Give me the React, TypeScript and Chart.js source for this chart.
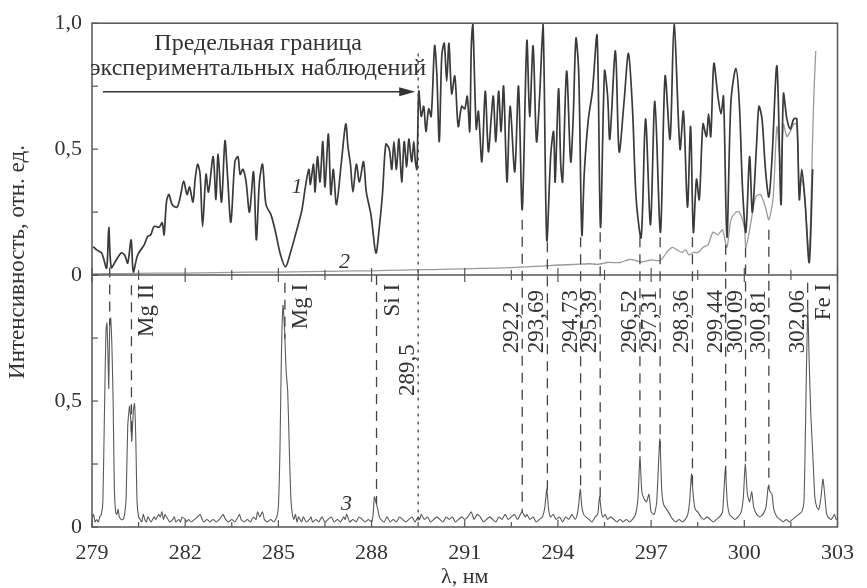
import React, { useEffect, useRef } from 'react';
import { Chart, registerables } from 'chart.js';
Chart.register(...registerables);

const SERIF = '"Liberation Serif", "DejaVu Serif", serif';
const INK = '#333333';
const FRAME = '#555555';

// Curve 1 (top panel): wavelength, nm and relative intensity
const wl1 = [279.04,279.15,279.31,279.47,279.54,279.62,279.78,279.94,280.05,280.15,280.26,280.33,280.47,280.68,280.79,280.89,281.0,281.16,281.26,281.32,281.4,281.48,281.58,281.74,281.85,281.95,282.06,282.14,282.25,282.32,282.4,282.48,282.56,282.67,282.75,282.9,282.99,283.06,283.17,283.28,283.36,283.47,283.6,283.7,283.77,283.86,283.96,284.07,284.2,284.29,284.39,284.49,284.6,284.76,284.91,285.07,285.23,285.39,285.55,285.66,285.76,285.87,285.98,286.03,286.13,286.18,286.26,286.34,286.43,286.5,286.61,286.69,286.77,286.87,287.03,287.17,287.24,287.32,287.4,287.51,287.61,287.74,287.83,287.98,288.14,288.25,288.35,288.46,288.57,288.65,288.72,288.8,288.88,288.97,289.05,289.13,289.2,289.29,289.36,289.41,289.46,289.52,289.6,289.68,289.75,289.84,289.92,290.03,290.1,290.18,290.26,290.34,290.42,290.49,290.58,290.68,290.79,290.9,291.0,291.08,291.16,291.21,291.26,291.37,291.44,291.55,291.66,291.76,291.85,291.92,292.0,292.09,292.17,292.25,292.36,292.46,292.61,292.73,292.85,293.0,293.09,293.2,293.31,293.41,293.52,293.64,293.77,293.86,293.91,294.02,294.09,294.15,294.28,294.41,294.49,294.58,294.67,294.77,294.85,294.98,295.11,295.26,295.37,295.5,295.6,295.67,295.85,295.97,296.13,296.27,296.4,296.52,296.68,296.82,296.98,297.12,297.3,297.45,297.61,297.74,297.93,298.04,298.17,298.27,298.36,298.46,298.55,298.67,298.78,298.85,298.92,299.02,299.15,299.25,299.33,299.44,299.57,299.73,299.84,299.94,300.05,300.17,300.26,300.4,300.47,300.57,300.68,300.79,300.89,301.05,301.18,301.26,301.37,301.48,301.59,301.69,301.77,301.85,301.95,302.09,302.2];
const int1 = [0.113,0.1,0.088,0.028,0.19,0.03,0.06,0.088,0.08,0.048,0.14,0.013,0.08,0.12,0.153,0.16,0.193,0.19,0.208,0.16,0.293,0.32,0.28,0.27,0.315,0.373,0.32,0.35,0.29,0.38,0.44,0.4,0.193,0.4,0.33,0.47,0.3,0.48,0.29,0.533,0.4,0.21,0.45,0.47,0.4,0.42,0.37,0.25,0.41,0.14,0.37,0.44,0.28,0.24,0.17,0.08,0.033,0.09,0.16,0.21,0.26,0.35,0.42,0.36,0.44,0.33,0.47,0.37,0.53,0.35,0.56,0.32,0.42,0.28,0.45,0.6,0.51,0.44,0.33,0.44,0.37,0.45,0.33,0.24,0.088,0.19,0.32,0.52,0.5,0.42,0.53,0.42,0.54,0.37,0.53,0.43,0.54,0.45,0.53,0.45,0.42,0.73,0.63,0.67,0.57,0.66,0.63,0.91,0.8,0.53,0.87,0.92,0.77,0.92,0.72,0.79,0.59,0.67,0.66,0.71,0.57,0.9,1.0,0.58,0.65,0.45,0.73,0.49,0.62,0.71,0.53,0.73,0.57,0.75,0.37,0.67,0.41,0.75,0.26,0.93,0.63,0.91,0.53,0.71,1.0,0.14,0.48,0.57,0.37,0.74,0.44,0.37,0.81,0.45,0.62,0.94,0.8,0.16,0.41,0.62,0.73,0.95,0.19,0.81,0.71,0.54,0.89,0.49,0.69,0.88,0.66,0.3,0.15,0.62,0.2,0.69,0.17,0.79,0.54,1.0,0.5,0.65,0.27,0.59,0.17,0.38,0.3,0.6,0.55,0.64,0.55,0.84,0.71,0.64,0.71,0.15,0.69,0.82,0.68,0.35,0.17,0.47,0.25,0.53,0.67,0.62,0.42,0.31,0.46,0.83,0.28,0.72,0.62,0.58,0.62,0.62,0.3,0.42,0.3,0.05,0.42];

// Curve 2 (top panel, light grey)
const wl2 = [279.0,280.0,281.0,282.0,283.0,284.0,285.0,286.0,287.0,288.0,289.0,289.5,290.0,291.0,292.0,292.5,293.0,293.5,294.0,294.5,295.0,295.3,295.6,296.0,296.3,296.5,296.7,297.0,297.3,297.5,297.68,297.84,298.0,298.11,298.22,298.36,298.52,298.67,298.83,298.99,299.15,299.3,299.44,299.57,299.73,299.84,300.0,300.05,300.2,300.36,300.52,300.68,300.79,300.93,301.05,301.18,301.26,301.37,301.48,301.59,301.69,301.77,301.85,301.95,302.05,302.09,302.15,302.2,302.25,302.3];
const int2 = [0.005,0.006,0.008,0.008,0.01,0.012,0.012,0.014,0.016,0.017,0.02,0.022,0.022,0.025,0.028,0.03,0.033,0.036,0.04,0.042,0.045,0.043,0.05,0.05,0.062,0.058,0.052,0.06,0.058,0.09,0.11,0.1,0.09,0.1,0.08,0.09,0.09,0.11,0.12,0.17,0.16,0.18,0.11,0.22,0.25,0.25,0.19,0.11,0.2,0.31,0.32,0.27,0.22,0.31,0.59,0.42,0.6,0.55,0.57,0.6,0.6,0.36,0.38,0.3,0.12,0.07,0.3,0.55,0.75,0.89];

// Curve 3 (bottom panel)
const wl3 = [279.0,279.05,279.1,279.15,279.2,279.25,279.3,279.35,279.4,279.45,279.48,279.51,279.54,279.57,279.6,279.64,279.68,279.72,279.76,279.8,279.84,279.88,279.94,280.0,280.05,280.1,280.15,280.21,280.25,280.28,280.33,280.37,280.41,280.45,280.5,280.55,280.6,280.65,280.7,280.75,280.8,280.85,280.9,280.95,281.0,281.05,281.1,281.15,281.2,281.25,281.3,281.35,281.4,281.45,281.5,281.6,281.65,281.7,281.8,281.85,281.9,282.0,282.05,282.1,282.2,282.3,282.4,282.48,282.55,282.6,282.7,282.8,282.9,283.0,283.1,283.16,283.22,283.3,283.4,283.5,283.6,283.7,283.75,283.8,283.9,284.0,284.1,284.2,284.28,284.33,284.4,284.49,284.55,284.65,284.75,284.85,284.95,285.0,285.05,285.1,285.15,285.2,285.25,285.3,285.35,285.4,285.45,285.5,285.55,285.6,285.65,285.7,285.75,285.8,285.85,285.9,286.0,286.05,286.1,286.2,286.3,286.4,286.45,286.5,286.6,286.7,286.8,286.9,287.0,287.1,287.15,287.2,287.3,287.4,287.5,287.6,287.7,287.8,287.9,288.0,288.05,288.09,288.14,288.2,288.25,288.3,288.4,288.5,288.6,288.7,288.8,288.9,289.0,289.1,289.2,289.3,289.4,289.5,289.55,289.6,289.7,289.8,289.9,290.0,290.1,290.2,290.3,290.4,290.5,290.6,290.7,290.8,290.9,291.0,291.1,291.21,291.3,291.4,291.5,291.6,291.7,291.8,291.9,292.0,292.1,292.2,292.3,292.4,292.5,292.6,292.7,292.84,292.95,293.0,293.1,293.2,293.3,293.4,293.5,293.58,293.64,293.7,293.76,293.85,293.95,294.05,294.15,294.25,294.35,294.45,294.55,294.62,294.67,294.72,294.77,294.83,294.9,295.0,295.1,295.2,295.28,295.34,295.4,295.45,295.52,295.6,295.7,295.8,295.9,296.0,296.1,296.2,296.3,296.4,296.5,296.58,296.64,296.7,296.78,296.85,296.93,297.0,297.1,297.18,297.28,297.34,297.4,297.5,297.6,297.7,297.8,297.9,298.0,298.1,298.18,298.24,298.3,298.36,298.42,298.5,298.6,298.7,298.8,298.9,299.0,299.1,299.2,299.3,299.39,299.45,299.52,299.6,299.7,299.8,299.9,299.97,300.03,300.1,300.17,300.24,300.3,300.4,300.5,300.6,300.7,300.77,300.83,300.89,300.95,301.05,301.15,301.25,301.35,301.45,301.55,301.65,301.75,301.85,301.92,301.97,302.04,302.09,302.14,302.2,302.27,302.33,302.4,302.47,302.53,302.58,302.64,302.69,302.8,302.9,302.96,303.0];
const int3 = [0.03,0.05,0.02,0.03,0.02,0.04,0.05,0.1,0.45,0.78,0.81,0.7,0.55,0.8,0.83,0.72,0.5,0.15,0.06,0.05,0.07,0.04,0.03,0.03,0.05,0.12,0.4,0.48,0.42,0.34,0.46,0.49,0.35,0.1,0.04,0.03,0.02,0.05,0.03,0.02,0.04,0.03,0.02,0.03,0.04,0.03,0.04,0.05,0.04,0.06,0.03,0.05,0.04,0.03,0.02,0.03,0.04,0.02,0.03,0.02,0.04,0.03,0.02,0.03,0.02,0.03,0.04,0.05,0.03,0.02,0.03,0.02,0.03,0.02,0.03,0.04,0.05,0.03,0.02,0.03,0.02,0.04,0.05,0.03,0.02,0.03,0.02,0.04,0.03,0.06,0.04,0.06,0.03,0.02,0.03,0.02,0.04,0.08,0.3,0.7,0.88,0.78,0.62,0.54,0.32,0.12,0.05,0.03,0.05,0.02,0.04,0.03,0.02,0.04,0.03,0.02,0.03,0.04,0.02,0.03,0.02,0.04,0.03,0.02,0.03,0.04,0.02,0.03,0.02,0.04,0.03,0.05,0.02,0.03,0.02,0.04,0.03,0.02,0.03,0.02,0.05,0.12,0.1,0.07,0.04,0.03,0.02,0.04,0.02,0.03,0.02,0.04,0.03,0.02,0.03,0.04,0.02,0.04,0.03,0.05,0.03,0.04,0.02,0.03,0.04,0.03,0.02,0.04,0.03,0.04,0.02,0.03,0.04,0.03,0.04,0.06,0.03,0.05,0.04,0.02,0.03,0.04,0.03,0.02,0.04,0.03,0.05,0.03,0.04,0.05,0.03,0.06,0.04,0.05,0.03,0.04,0.02,0.03,0.04,0.08,0.15,0.07,0.04,0.05,0.03,0.04,0.02,0.04,0.03,0.05,0.03,0.05,0.09,0.15,0.08,0.05,0.04,0.03,0.02,0.04,0.05,0.12,0.06,0.04,0.05,0.03,0.04,0.03,0.02,0.03,0.02,0.03,0.02,0.03,0.05,0.12,0.28,0.14,0.11,0.1,0.13,0.06,0.05,0.1,0.35,0.15,0.09,0.07,0.05,0.03,0.02,0.03,0.02,0.03,0.05,0.1,0.21,0.12,0.07,0.06,0.04,0.03,0.04,0.03,0.02,0.03,0.04,0.06,0.23,0.1,0.05,0.04,0.03,0.04,0.06,0.12,0.25,0.13,0.1,0.14,0.08,0.05,0.04,0.05,0.08,0.16,0.14,0.13,0.07,0.04,0.03,0.02,0.03,0.02,0.03,0.04,0.05,0.06,0.1,0.4,0.87,0.65,0.45,0.3,0.12,0.08,0.07,0.12,0.19,0.14,0.06,0.04,0.03,0.05,0.03,0.03];

// Marked spectral lines
const linePos = [279.57, 280.27, 285.21, 288.16, 289.5, 292.85, 293.66, 294.73, 295.36, 296.64, 297.29, 298.33, 299.4, 300.04, 300.79, 302.04];
const lineStartPanel = ['top','bot','bot','bot','top','top','top','top','top','top','top','top','top','top','top','bot'];
const lineStartVal = [0.03, 0.96, 0.97, 1.0, 0.88, 0.22, 0.13, 0.15, 0.17, 0.15, 0.15, 0.15, 0.12, 0.11, 0.18, 0.97];
const lineNumLabels = ['', '', '', '', '289,5', '292,2', '293,69', '294,73', '295,39', '296,52', '297,31', '298,36', '299,44', '300,09', '300,81', '302,06'];
const lineElemLabels = ['', 'Mg II', 'Mg I', 'Si I', '', '', '', '', '', '', '', '', '', '', '', 'Fe I'];

const xTickLabels: Record<number, string> = { 279: '279', 282: '282', 285: '285', 288: '288', 291: '291', 294: '294', 297: '297', 300: '300', 303: '303' };
const yTopLabels: Record<number, string> = { 0: '0', 0.5: '0,5', 1: '1,0' };
const yBotLabels: Record<number, string> = { 0: '0', 0.5: '0,5' };

const headerLines = ['Предельная граница', 'экспериментальных наблюдений'];
const xTitle = 'λ, нм';
const yTitle = 'Интенсивность, отн. ед.';

const pts = (xs: number[], ys: number[]) => xs.map((x, i) => ({ x, y: ys[i] }));

function interp(xs: number[], ys: number[], v: number) {
  for (let i = 1; i < xs.length; i++) {
    if (xs[i] >= v) {
      const t = (v - xs[i - 1]) / (xs[i] - xs[i - 1]);
      return ys[i - 1] + t * (ys[i] - ys[i - 1]);
    }
  }
  return ys[ys.length - 1];
}

const overlay = {
  id: 'overlay',
  afterDatasetsDraw(chart: any) {
    const { ctx, chartArea: ca, scales } = chart;
    const x = scales.x, yT = scales.yTop, yB = scales.yBot;
    ctx.save();

    // marked lines
    ctx.strokeStyle = '#444';
    ctx.lineWidth = 1.3;
    linePos.forEach((p, i) => {
      const px = x.getPixelForValue(p);
      const y0 = lineStartPanel[i] === 'top' ? yT.getPixelForValue(lineStartVal[i]) : yB.getPixelForValue(lineStartVal[i]);
      const dotted = lineNumLabels[i] === '289,5';
      const endVal = dotted ? 0.01 : Math.max(0.03, interp(wl3, int3, p));
      const y1 = yB.getPixelForValue(endVal);
      ctx.setLineDash(dotted ? [3, 5] : [10, 7]);
      ctx.beginPath();
      ctx.moveTo(px, y0);
      ctx.lineTo(px, y1);
      ctx.stroke();
    });
    ctx.setLineDash([]);

    // frame
    ctx.strokeStyle = FRAME;
    ctx.lineWidth = 1.5;
    ctx.strokeRect(ca.left, ca.top, ca.right - ca.left, ca.bottom - ca.top);
    ctx.beginPath();
    ctx.moveTo(ca.left, yB.top);
    ctx.lineTo(ca.right, yB.top);
    ctx.stroke();

    // inner ticks
    ctx.lineWidth = 1.2;
    x.ticks.forEach((t: any) => {
      const px = x.getPixelForValue(t.value);
      const len = t.label ? 7 : 5;
      ctx.beginPath();
      ctx.moveTo(px, yB.bottom); ctx.lineTo(px, yB.bottom - len);
      ctx.moveTo(px, yB.top - len); ctx.lineTo(px, yB.top + len);
      ctx.stroke();
    });
    [yT, yB].forEach((s: any) => {
      s.ticks.forEach((t: any) => {
        const py = s.getPixelForValue(t.value);
        ctx.beginPath();
        ctx.moveTo(ca.left, py); ctx.lineTo(ca.left + 6, py);
        ctx.stroke();
      });
    });

    // arrow
    const ay = yT.getPixelForValue(0.728);
    const ax0 = x.getPixelForValue(279.35);
    const ax1 = x.getPixelForValue(289.5) - 3;
    ctx.strokeStyle = '#333';
    ctx.fillStyle = '#333';
    ctx.lineWidth = 1.4;
    ctx.beginPath(); ctx.moveTo(ax0, ay); ctx.lineTo(ax1 - 12, ay); ctx.stroke();
    ctx.beginPath(); ctx.moveTo(ax1, ay); ctx.lineTo(ax1 - 16, ay - 4.5); ctx.lineTo(ax1 - 16, ay + 4.5); ctx.closePath(); ctx.fill();

    // texts
    ctx.fillStyle = INK;
    ctx.font = `24px ${SERIF}`;
    ctx.textAlign = 'center';
    ctx.textBaseline = 'alphabetic';
    const hx = x.getPixelForValue(284.35);
    ctx.fillText(headerLines[0], hx, yT.getPixelForValue(0.895));
    ctx.fillText(headerLines[1], hx, yT.getPixelForValue(0.795));

    // rotated line labels
    ctx.font = `23px ${SERIF}`;
    linePos.forEach((p, i) => {
      const px = x.getPixelForValue(p);
      if (lineNumLabels[i]) {
        const low = lineNumLabels[i] === '289,5';
        ctx.save();
        ctx.translate(px - 4, yB.getPixelForValue(low ? 0.52 : 0.69));
        ctx.rotate(-Math.PI / 2);
        ctx.textAlign = 'left';
        ctx.textBaseline = 'alphabetic';
        ctx.fillText(lineNumLabels[i], 0, 0);
        ctx.restore();
      }
      if (lineElemLabels[i]) {
        ctx.save();
        ctx.translate(px + 22, yB.getPixelForValue(0.965));
        ctx.rotate(-Math.PI / 2);
        ctx.textAlign = 'right';
        ctx.textBaseline = 'alphabetic';
        ctx.fillText(lineElemLabels[i], 0, 0);
        ctx.restore();
      }
    });

    // curve numbers
    ctx.font = `italic 22px ${SERIF}`;
    ctx.textAlign = 'center';
    ctx.textBaseline = 'middle';
    ctx.fillText('1', x.getPixelForValue(285.6), yT.getPixelForValue(0.35));
    ctx.fillText('2', x.getPixelForValue(287.13), yT.getPixelForValue(0.05));
    ctx.fillText('3', x.getPixelForValue(287.19), yB.getPixelForValue(0.09));

    // axis titles
    ctx.font = `22px ${SERIF}`;
    ctx.textBaseline = 'middle';
    ctx.fillText(xTitle, (ca.left + ca.right) / 2, 577);
    ctx.font = `23px ${SERIF}`;
    ctx.save();
    ctx.translate(18, 262);
    ctx.rotate(-Math.PI / 2);
    ctx.fillText(yTitle, 0, 0);
    ctx.restore();

    ctx.restore();
  },
};

export default function App() {
  const ref = useRef<HTMLCanvasElement>(null);
  useEffect(() => {
    const tickFont = { family: SERIF, size: 22 };
    const chart = new Chart(ref.current!, {
      type: 'line',
      data: {
        datasets: [
          { label: '1', data: pts(wl1, int1), yAxisID: 'yTop', borderColor: '#3a3a3a', borderWidth: 1.7, pointRadius: 0, tension: 0.3, borderJoinStyle: 'round' },
          { label: '2', data: pts(wl2, int2), yAxisID: 'yTop', borderColor: '#9a9a9a', borderWidth: 1.3, pointRadius: 0, tension: 0.25 },
          { label: '3', data: pts(wl3, int3), yAxisID: 'yBot', borderColor: '#5a5a5a', borderWidth: 1.1, pointRadius: 0, tension: 0.2 },
        ],
      },
      options: {
        animation: false,
        responsive: true,
        maintainAspectRatio: false,
        layout: { padding: { top: 23, right: 19, left: 0, bottom: 0 } },
        plugins: { legend: { display: false }, tooltip: { enabled: false } },
        scales: {
          x: {
            type: 'linear', min: 279, max: 303,
            grid: { display: false, drawTicks: false },
            border: { display: false },
            ticks: {
              stepSize: 1.5, autoSkip: false, maxRotation: 0, padding: 13, color: INK, font: tickFont,
              callback: (v: any) => xTickLabels[Number(v)] ?? '',
            },
            afterFit: (s: any) => { s.height = 61; },
          },
          yBot: {
            type: 'linear', position: 'left', stack: 'panels', stackWeight: 1, min: 0, max: 1,
            grid: { display: false, drawTicks: false },
            border: { display: false },
            ticks: { stepSize: 0.25, padding: 10, color: INK, font: tickFont, callback: (v: any) => yBotLabels[Number(v)] ?? '' },
            afterFit: (s: any) => { s.width = 92; },
          },
          yTop: {
            type: 'linear', position: 'left', stack: 'panels', stackWeight: 1, min: 0, max: 1,
            grid: { display: false, drawTicks: false },
            border: { display: false },
            ticks: { stepSize: 0.25, padding: 10, color: INK, font: tickFont, callback: (v: any) => yTopLabels[Number(v)] ?? '' },
            afterFit: (s: any) => { s.width = 92; },
          },
        },
      },
      plugins: [overlay],
    } as any);
    return () => chart.destroy();
  }, []);
  return (
    <div style={{ position: 'absolute', left: 0, top: 0, width: 867, height: 588, background: '#fff' }}>
      <canvas ref={ref} />
    </div>
  );
}
